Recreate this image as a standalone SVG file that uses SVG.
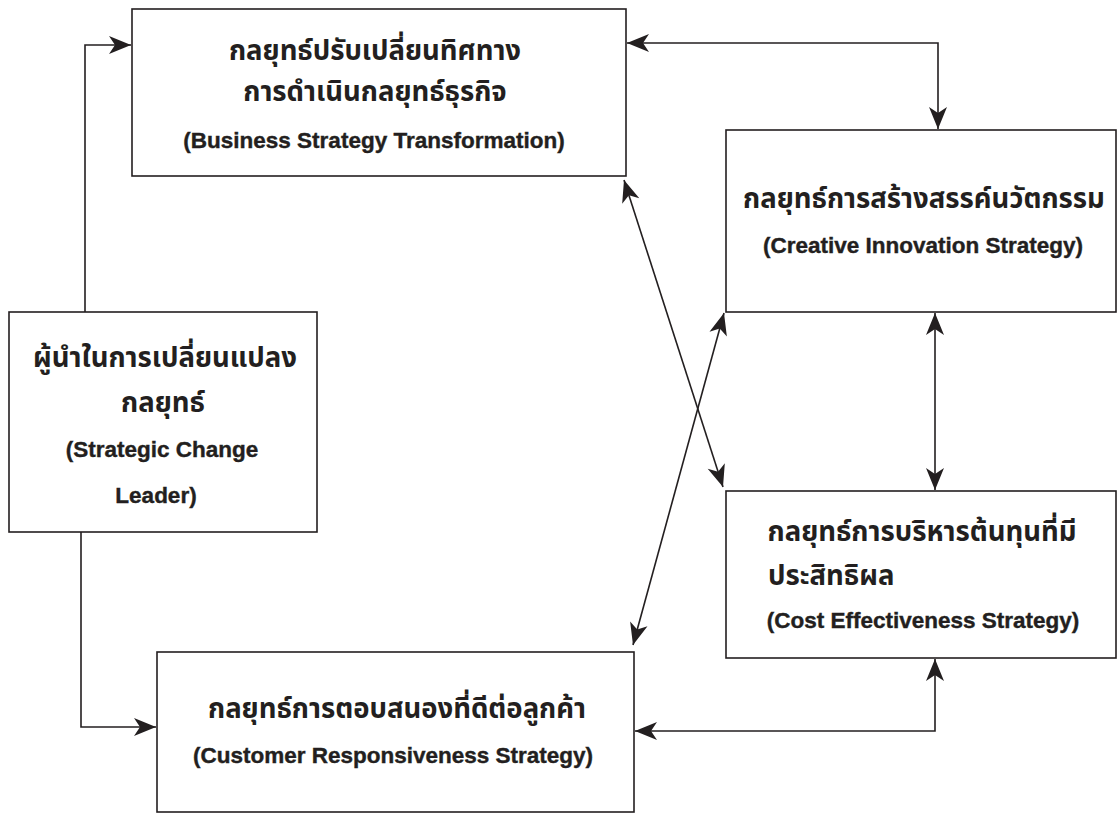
<svg xmlns="http://www.w3.org/2000/svg" width="1118" height="814" viewBox="0 0 1118 814">
<style>
.box{fill:#fff;stroke:#231f20;stroke-width:1.6}
.th{font-family:"Noto Sans Thai","Noto Sans","DejaVu Sans",sans-serif;font-size:27.5px;font-weight:bold;fill:#231f20;text-anchor:middle}
.en{font-family:"Liberation Sans",Arial,sans-serif;font-size:22.5px;font-weight:bold;fill:#231f20;stroke:#231f20;stroke-width:0.4;text-anchor:middle}
.con{fill:none;stroke:#231f20;stroke-width:1.6}
</style>
<defs>
<marker id="ah" viewBox="-23 -10 24 20" refX="0" refY="0" markerWidth="24" markerHeight="20" markerUnits="userSpaceOnUse" orient="auto-start-reverse">
<path d="M0,0 L-22,-9 L-16,0 L-22,9 Z" fill="#231f20"/>
</marker>
</defs>
<rect width="1118" height="814" fill="#fff"/>
<g id="connectors">
<path class="con" d="M85,312 V45 H131" marker-end="url(#ah)"/>
<path class="con" d="M81,532 V727 H156" marker-end="url(#ah)"/>
<path class="con" d="M627,43 H938 V129" marker-start="url(#ah)" marker-end="url(#ah)"/>
<path class="con" d="M624,180 L723,487" marker-start="url(#ah)" marker-end="url(#ah)"/>
<path class="con" d="M724,313 L633,645" marker-start="url(#ah)" marker-end="url(#ah)"/>
<path class="con" d="M935,313 V490" marker-start="url(#ah)" marker-end="url(#ah)"/>
<path class="con" d="M635,731 H935 V659" marker-start="url(#ah)" marker-end="url(#ah)"/>
</g>
<g id="node-business">
<rect class="box" x="132" y="9" width="494" height="167"/>
<text class="th" x="375" y="60">กลยุทธ์ปรับเปลี่ยนทิศทาง</text>
<text class="th" x="375" y="101">การดำเนินกลยุทธ์ธุรกิจ</text>
<text class="en" x="374" y="148">(Business Strategy Transformation)</text>
</g>
<g id="node-creative">
<rect class="box" x="726" y="130" width="390" height="182"/>
<text class="th" x="924" y="208">กลยุทธ์การสร้างสรรค์นวัตกรรม</text>
<text class="en" x="923" y="253">(Creative Innovation Strategy)</text>
</g>
<g id="node-cost">
<rect class="box" x="726" y="491" width="390" height="167"/>
<text class="th" x="922" y="541">กลยุทธ์การบริหารต้นทุนที่มี</text>
<text class="th" x="768" y="585" style="text-anchor:start">ประสิทธิผล</text>
<text class="en" x="923" y="628">(Cost Effectiveness Strategy)</text>
</g>
<g id="node-customer">
<rect class="box" x="157" y="652" width="477" height="160"/>
<text class="th" x="397" y="718">กลยุทธ์การตอบสนองที่ดีต่อลูกค้า</text>
<text class="en" x="393" y="763">(Customer Responsiveness Strategy)</text>
</g>
<g id="node-leader">
<rect class="box" x="9" y="312" width="308" height="220"/>
<text class="th" x="165" y="367">ผู้นำในการเปลี่ยนแปลง</text>
<text class="th" x="163" y="412">กลยุทธ์</text>
<text class="en" x="162" y="457">(Strategic Change</text>
<text class="en" x="156" y="503">Leader)</text>
</g>
</svg>
